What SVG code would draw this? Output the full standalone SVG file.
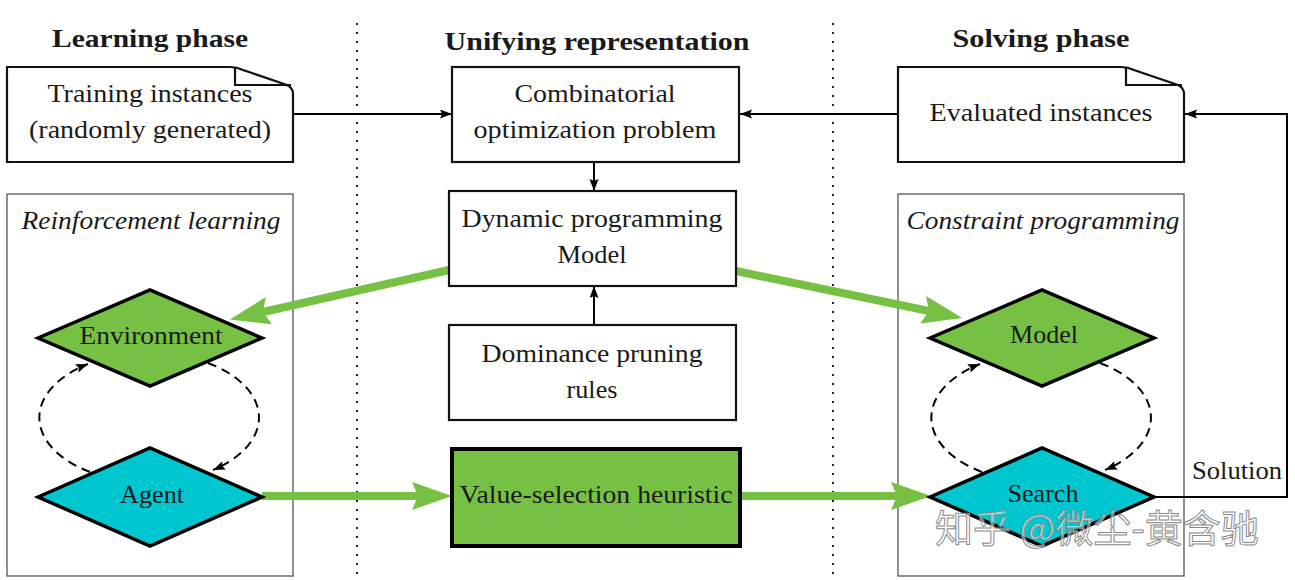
<svg xmlns="http://www.w3.org/2000/svg" width="1295" height="580" viewBox="0 0 1295 580">
<style>
  .t { font-family: "Liberation Serif", "DejaVu Serif", serif; font-size: 26px; fill: #1a1a1a; text-anchor: middle; }
  .h { font-family: "Liberation Serif", "DejaVu Serif", serif; font-size: 25px; font-weight: bold; fill: #1a1a1a; text-anchor: middle; }
  .i { font-style: italic; }
  .box { fill: #ffffff; stroke: #111; stroke-width: 2.2; }
  .frame { fill: none; stroke: #555; stroke-width: 1.3; }
  .green { fill: #76c043; }
  .cyan { fill: #00c6cf; }
  .dia { stroke: #000; stroke-width: 3.5; stroke-linejoin: miter; }
  .dot { stroke: #222; stroke-width: 2; stroke-dasharray: 2 7; fill: none; }
  .arr { stroke: #000; stroke-width: 2; fill: none; marker-end: url(#ah); }
  .dash { stroke: #000; stroke-width: 2; fill: none; stroke-dasharray: 9 6; marker-end: url(#ah); }
  .garr { stroke: #76c043; stroke-width: 8; fill: none; marker-end: url(#gh); }
  .wm { font-family: "Noto Sans CJK SC", sans-serif; font-size: 38px; fill: #ffffff; fill-opacity: 0.55; stroke: #8a8a8a; stroke-width: 1; }
</style>
<defs>
  <marker id="ah" markerUnits="userSpaceOnUse" markerWidth="13" markerHeight="10" refX="12" refY="4.5" orient="auto" viewBox="0 0 13 10">
    <path d="M0,0 L12,4.5 L0,9 L2,4.5 Z" fill="#000"/>
  </marker>
  <marker id="gh" markerUnits="userSpaceOnUse" markerWidth="41" markerHeight="29" refX="6" refY="14" orient="auto" viewBox="0 0 41 29">
    <path d="M0,0 L40,14 L0,28 L6,14 Z" fill="#76c043"/>
  </marker>
</defs>
<rect width="1295" height="580" fill="#ffffff"/>

<g id="separators">
  <line class="dot" x1="357" y1="23" x2="357" y2="575"/>
  <line class="dot" x1="833" y1="23" x2="833" y2="575"/>
</g>

<g id="headers">
  <text class="h" x="150" y="47" textLength="196" lengthAdjust="spacingAndGlyphs">Learning phase</text>
  <text class="h" x="597" y="50" textLength="305" lengthAdjust="spacingAndGlyphs">Unifying representation</text>
  <text class="h" x="1041" y="47" textLength="177" lengthAdjust="spacingAndGlyphs">Solving phase</text>
</g>

<g id="rl-frame">
  <rect class="frame" x="7" y="194" width="286" height="382"/>
  <text class="t i" x="151" y="229" textLength="259" lengthAdjust="spacingAndGlyphs">Reinforcement learning</text>
</g>
<g id="cp-frame">
  <rect class="frame" x="898" y="194" width="286" height="382"/>
  <text class="t i" x="1043" y="229" textLength="273" lengthAdjust="spacingAndGlyphs">Constraint programming</text>
</g>

<g id="connectors">
  <line class="arr" x1="293" y1="114" x2="452" y2="114"/>
  <line class="arr" x1="898" y1="114" x2="740" y2="114"/>
  <line class="arr" x1="594" y1="162" x2="594" y2="191"/>
  <line class="arr" x1="594" y1="325" x2="594" y2="286"/>
  <path class="arr" d="M1153,497 H1287 V114 H1185"/>
  <path class="dash" d="M90,472 A112,65 0 0 1 88,364"/>
  <path class="dash" d="M208,363 A112,65 0 0 1 213,470"/>
  <path class="dash" d="M982,472 A112,65 0 0 1 980,364"/>
  <path class="dash" d="M1100,363 A112,65 0 0 1 1105,470"/>
  <line class="garr" x1="449" y1="270" x2="263" y2="312"/>
  <line class="garr" x1="736" y1="271" x2="929" y2="311"/>
  <line class="garr" x1="262" y1="496" x2="418" y2="496"/>
  <line class="garr" x1="741" y1="496" x2="897" y2="496"/>
  <text class="t" x="1237" y="479" textLength="90" lengthAdjust="spacingAndGlyphs">Solution</text>
</g>

<g id="training">
  <path class="box" d="M7,67 H230 Q237,67 243,70 L287,85 Q293,88 293,94 V162 H7 Z"/>
  <path d="M235,67 V85 H291" fill="none" stroke="#111" stroke-width="2.2"/>
  <text class="t" x="150" y="102" textLength="205" lengthAdjust="spacingAndGlyphs">Training instances</text>
  <text class="t" x="150" y="138" textLength="242" lengthAdjust="spacingAndGlyphs">(randomly generated)</text>
</g>

<g id="evaluated">
  <path class="box" d="M898,67 H1121 Q1128,67 1134,70 L1178,85 Q1184,88 1184,94 V162 H898 Z"/>
  <path d="M1126,67 V85 H1182" fill="none" stroke="#111" stroke-width="2.2"/>
  <text class="t" x="1041" y="121" textLength="223" lengthAdjust="spacingAndGlyphs">Evaluated instances</text>
</g>

<g id="combinatorial">
  <rect class="box" x="452" y="67" width="287" height="95"/>
  <text class="t" x="595" y="102" textLength="161" lengthAdjust="spacingAndGlyphs">Combinatorial</text>
  <text class="t" x="595" y="138" textLength="243" lengthAdjust="spacingAndGlyphs">optimization problem</text>
</g>

<g id="dp-model">
  <rect class="box" x="449" y="191" width="287" height="95"/>
  <text class="t" x="592" y="227" textLength="261" lengthAdjust="spacingAndGlyphs">Dynamic programming</text>
  <text class="t" x="592" y="263" textLength="69" lengthAdjust="spacingAndGlyphs">Model</text>
</g>

<g id="dominance">
  <rect class="box" x="449" y="325" width="287" height="95"/>
  <text class="t" x="592" y="362" textLength="221" lengthAdjust="spacingAndGlyphs">Dominance pruning</text>
  <text class="t" x="592" y="398" textLength="51" lengthAdjust="spacingAndGlyphs">rules</text>
</g>

<g id="value-selection">
  <rect class="green" x="452" y="449" width="288" height="97" stroke="#000" stroke-width="4"/>
  <text class="t" x="596" y="503" textLength="273" lengthAdjust="spacingAndGlyphs">Value-selection heuristic</text>
</g>

<g id="environment">
  <polygon class="green dia" points="38,338 150,290 262,338 150,386"/>
  <text class="t" x="151" y="344" textLength="143" lengthAdjust="spacingAndGlyphs">Environment</text>
</g>

<g id="agent">
  <polygon class="cyan dia" points="38,497 150,448 262,497 150,546"/>
  <text class="t" x="152" y="503" textLength="64" lengthAdjust="spacingAndGlyphs">Agent</text>
</g>

<g id="model">
  <polygon class="green dia" points="930,338 1042,290 1154,338 1042,386"/>
  <text class="t" x="1044" y="343" textLength="68" lengthAdjust="spacingAndGlyphs">Model</text>
</g>

<g id="search">
  <polygon class="cyan dia" points="930,497 1042,448 1154,497 1042,546"/>
  <text class="t" x="1043" y="502" textLength="71" lengthAdjust="spacingAndGlyphs">Search</text>
</g>

<g id="watermark">
  <text class="wm" x="935" y="542">知乎 @微尘-黄含驰</text>
</g>
</svg>
